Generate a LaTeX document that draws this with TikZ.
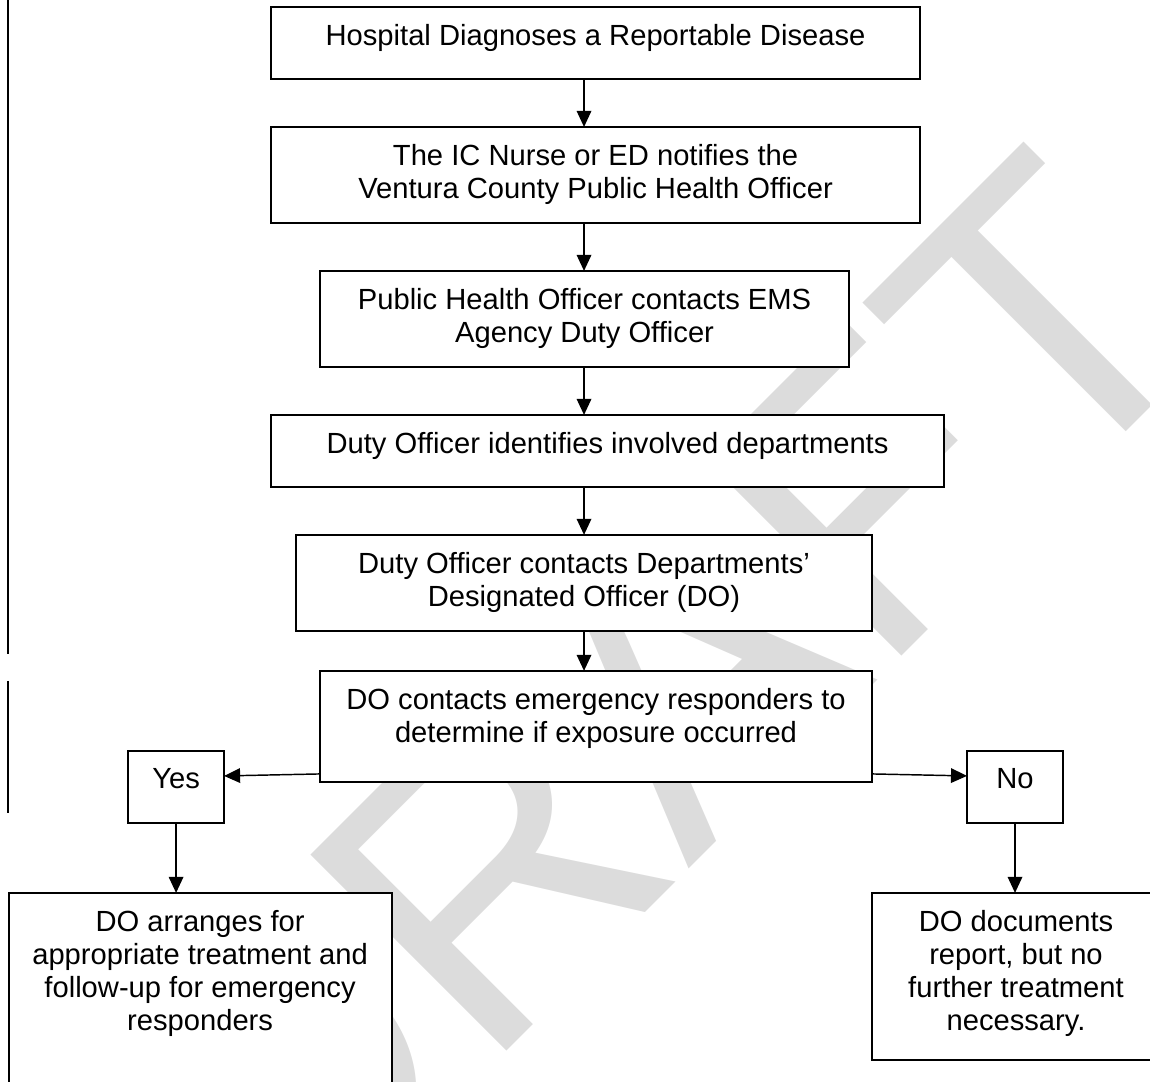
\documentclass[tikz,border=0pt]{standalone}
\usepackage{fontspec}
\setmainfont{Liberation Sans}
\usepackage{tikz}
\usetikzlibrary{arrows.meta,positioning}
\definecolor{wmgray}{RGB}{220,220,220}
\newlength{\boxpad}\setlength{\boxpad}{7.2pt}

\begin{document}
\begin{tikzpicture}[
  node distance=19.75pt,
  box/.style 2 args={draw, fill=white, line width=0.8pt, inner sep=0pt, outer sep=0pt,
              execute at begin node={\begin{minipage}[t][#2][t]{#1}\centering
                \fontsize{12}{13.6}\selectfont\vspace*{\boxpad}},
              execute at end node={\end{minipage}}},
  arr/.style={-{Triangle[length=6.6pt, width=6pt]}, line width=0.6pt},
  chbar/.style={line width=0.8pt},
  wmark/.style={text=wmgray, font=\fontsize{165.8}{166}\selectfont,
                rotate=45, anchor=base west, inner sep=0pt}
]
\useasboundingbox (0,0) rectangle (473.2pt,-445.2pt);
\clip (0,0) rectangle (473.2pt,-445.2pt);

% --- Watermark behind everything ---
\node[wmark] (draft) at (114pt,-527.1pt) {DRAFT};

% --- Change bars in the margin ---
\draw[chbar] (3.3pt,0) -- (3.3pt,-269.1pt);
\draw[chbar] (3.3pt,-280.2pt) -- (3.3pt,-334.6pt);

% --- Main chain ---
\node[box={267.1pt}{29.6pt}, anchor=north] (hosp) at (245.05pt,-2.88pt)
  {Hospital Diagnoses a Reportable Disease};
\node[box={267.1pt}{39.5pt}, below=of hosp] (nurse)
  {The IC Nurse or ED notifies the\\Ventura County Public Health Officer};
\node[box={217.7pt}{39.5pt}, below=of nurse, xshift=-4.53pt] (pho)
  {Public Health Officer contacts EMS\\Agency Duty Officer};
\node[box={276.9pt}{29.6pt}, below=of pho, xshift=9.46pt] (duty)
  {Duty Officer identifies involved departments};
\node[box={237pt}{39.5pt}, below=of duty, xshift=-9.67pt] (contact)
  {Duty Officer contacts Departments'\\Designated Officer (DO)};
\node[box={227.1pt}{45.7pt}, below=16.46pt of contact, xshift=4.94pt] (expo)
  {DO contacts emergency responders to\\determine if exposure occurred};

% --- Decision ---
\node[box={39.5pt}{29.6pt}, left=39.5pt of expo.south west, yshift=-2.06pt] (yes) {Yes};
\node[box={39.5pt}{29.6pt}, right=39.1pt of expo.south east, yshift=-2.06pt] (no) {No};

% --- Outcomes ---
\node[box={157.6pt}{82.3pt}, below=28.8pt of yes, xshift=9.88pt] (treat)
  {DO arranges for\\appropriate treatment and\\follow-up for emergency\\responders};
\node[box={118.5pt}{68.7pt}, below=28.8pt of no, xshift=0.41pt] (report)
  {DO documents\\report, but no\\further treatment\\necessary.};

% --- Arrows ---
\draw[arr] (hosp.south -| contact) -- (nurse.north -| contact);
\draw[arr] (nurse.south -| contact) -- (pho.north -| contact);
\draw[arr] (pho.south -| contact) -- (duty.north -| contact);
\draw[arr] (duty.south -| contact) -- (contact.north);
\draw[arr] (contact.south) -- (expo.north -| contact);

\draw[arr] ([yshift=3.29pt]expo.south west) -- ([yshift=4.53pt]yes.east);
\draw[arr] ([yshift=3.29pt]expo.south east) -- ([yshift=4.53pt]no.west);

\draw[arr] (yes.south) -- (treat.north -| yes.south);
\draw[arr] (no.south) -- (report.north -| no.south);
\end{tikzpicture}
\end{document}
